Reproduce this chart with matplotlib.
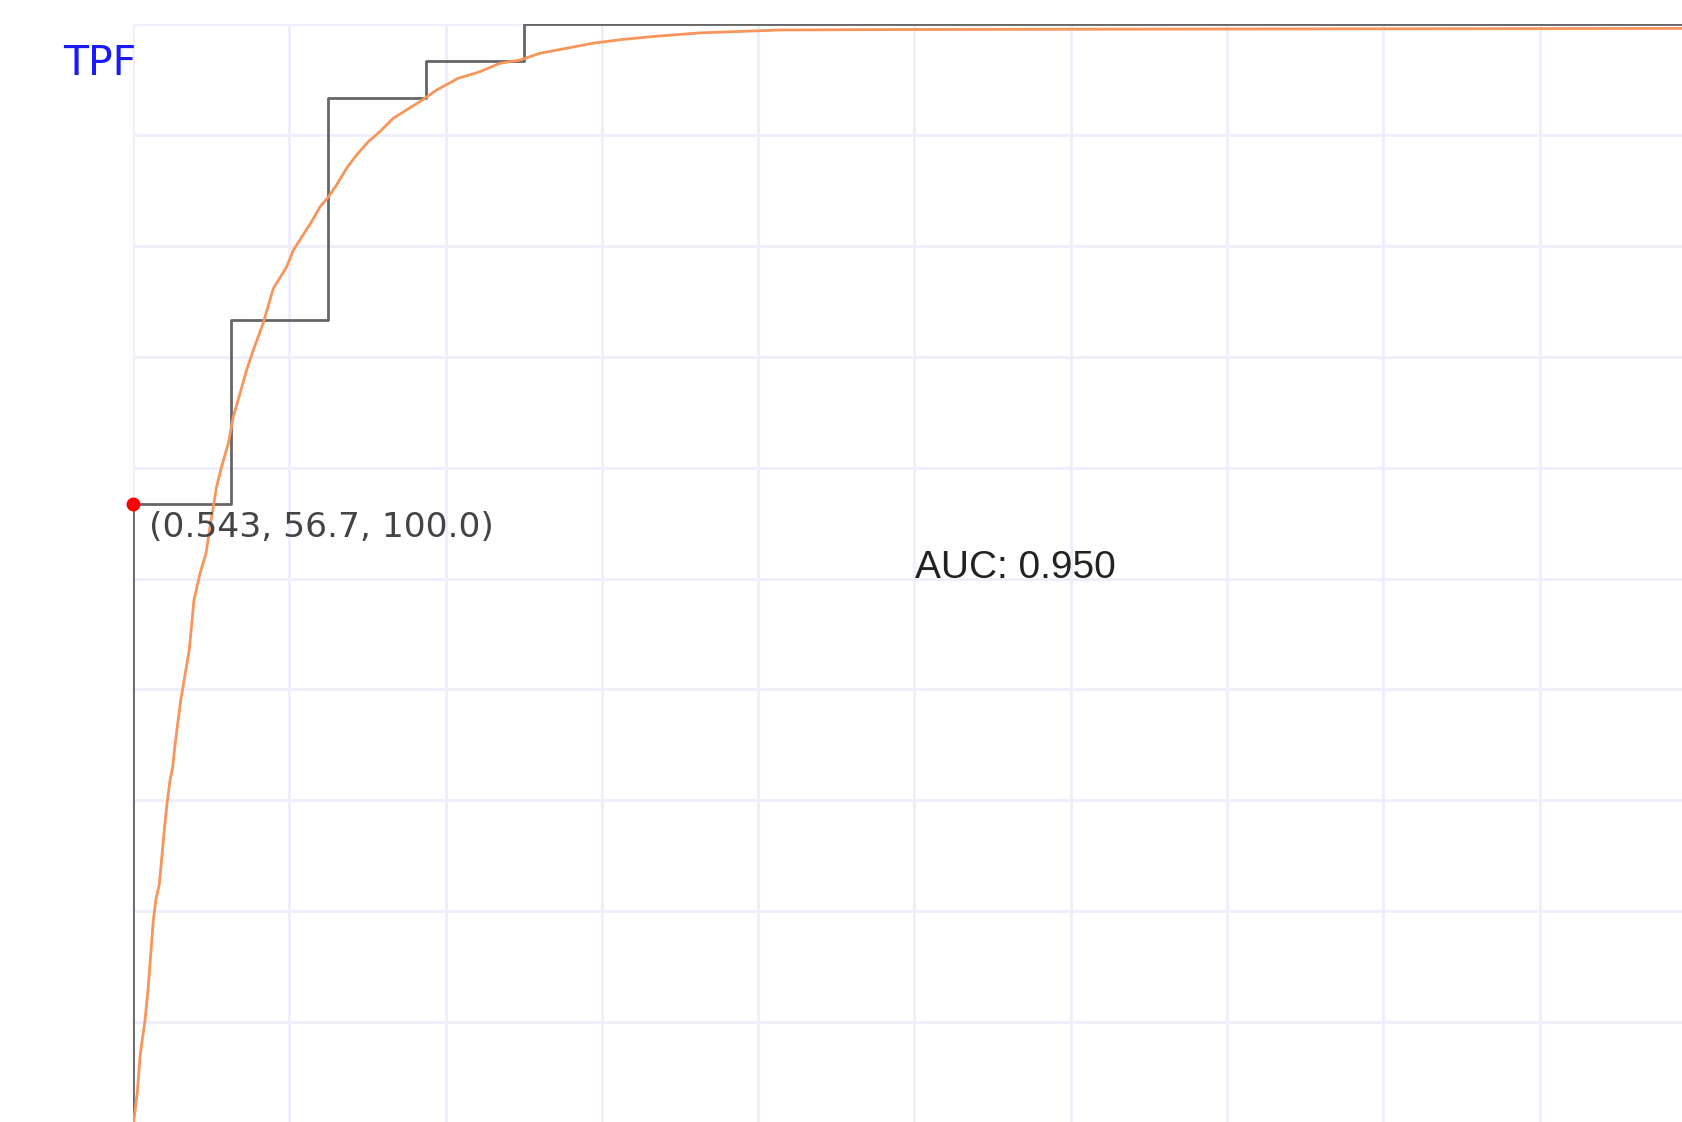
import numpy as np
import matplotlib
matplotlib.use("Agg")
import matplotlib.pyplot as plt

# Empirical ROC operating points (corners of the step curve)
fpf_emp = [0.0, 0.0, 0.0625, 0.125, 0.1875, 0.25, 1.0]
tpf_emp = [0.0, 0.567, 0.733, 0.933, 0.967, 1.0, 1.0]

# Fitted smooth ROC curve
fpf_fit = [0.0, 0.0006, 0.0028, 0.0045, 0.0077, 0.0098, 0.0113, 0.013, 0.0147, 0.0168,
           0.0184, 0.020, 0.022, 0.0237, 0.0254, 0.0269, 0.0286, 0.0305, 0.036, 0.039,
           0.0429, 0.0467, 0.0503, 0.0535, 0.0567, 0.061, 0.0642, 0.0685, 0.0727, 0.077,
           0.0834, 0.0898, 0.0983, 0.1026, 0.108, 0.1143, 0.1196, 0.125, 0.1303, 0.1367,
           0.1431, 0.1506, 0.158, 0.1665, 0.175, 0.1836, 0.1943, 0.208, 0.222, 0.2348,
           0.2476, 0.2604, 0.2732, 0.2945, 0.3127, 0.335, 0.3628, 0.414, 0.4907, 0.70, 1.0]
tpf_fit = [0.0, 0.012, 0.037, 0.069, 0.102, 0.132, 0.1605, 0.192, 0.211, 0.224,
           0.248, 0.273, 0.300, 0.318, 0.330, 0.350, 0.369, 0.390, 0.4355, 0.4806,
           0.5047, 0.5227, 0.5557, 0.5828, 0.6008, 0.622, 0.646, 0.667, 0.688, 0.706,
           0.7307, 0.7616, 0.781, 0.796, 0.808, 0.8218, 0.835, 0.844, 0.855, 0.870,
           0.882, 0.894, 0.903, 0.915, 0.9225, 0.930, 0.9405, 0.951, 0.957, 0.9646,
           0.9675, 0.9736, 0.977, 0.9827, 0.986, 0.989, 0.992, 0.9946, 0.995, 0.9955, 0.996]

# Selected operating point: (threshold, sensitivity %, specificity %)
op_threshold = 0.543
op_sens = 56.7
op_spec = 100.0
auc = 0.950

grid_ticks = np.round(np.arange(0.0, 1.01, 0.1), 2)

W, H = 1683, 1122
fig = plt.figure(figsize=(W / 100, H / 100), dpi=100)
fig.patch.set_facecolor("white")

# Axes box: x=0 at pixel 133, y=1 at pixel 24 from top, y=0 just below the bottom edge
ax = fig.add_axes([133 / W, -11 / H, 1563 / W, 1109 / H])
ax.set_xlim(0, 1)
ax.set_ylim(0, 1)
for s in ax.spines.values():
    s.set_visible(False)
ax.set_xticks(grid_ticks)
ax.set_yticks(grid_ticks)
ax.tick_params(length=0, labelbottom=False, labelleft=False)
ax.grid(True, color="#eeeefc", linewidth=2.0)
ax.set_axisbelow(True)

ax.plot(fpf_emp, tpf_emp, drawstyle="steps-post", color="#666666",
        linewidth=2.0, zorder=3)
ax.plot(fpf_fit, tpf_fit, color="#f7955a", linewidth=2.0, zorder=4)

op_fpf = 1 - op_spec / 100.0
op_tpf = op_sens / 100.0
ax.plot([op_fpf], [op_tpf], "o", color="#ff0000", markersize=9, zorder=5,
        clip_on=False)

fig.text(63 / W, 1 - 75 / H, "TPF", color="#1a1aff", fontsize=29.5,
         family="DejaVu Sans", ha="left", va="baseline")
fig.text(149 / W, 1 - 537 / H,
         f"({op_threshold:.3f}, {op_sens:.1f}, {op_spec:.1f})",
         color="#444444", fontsize=24.8, family="DejaVu Sans",
         ha="left", va="baseline")
fig.text(915 / W, 1 - 578 / H, f"AUC: {auc:.3f}", color="#222222",
         fontsize=28.0, family="Liberation Sans", ha="left", va="baseline")

fig.savefig("out.png", dpi=100, facecolor="white")
